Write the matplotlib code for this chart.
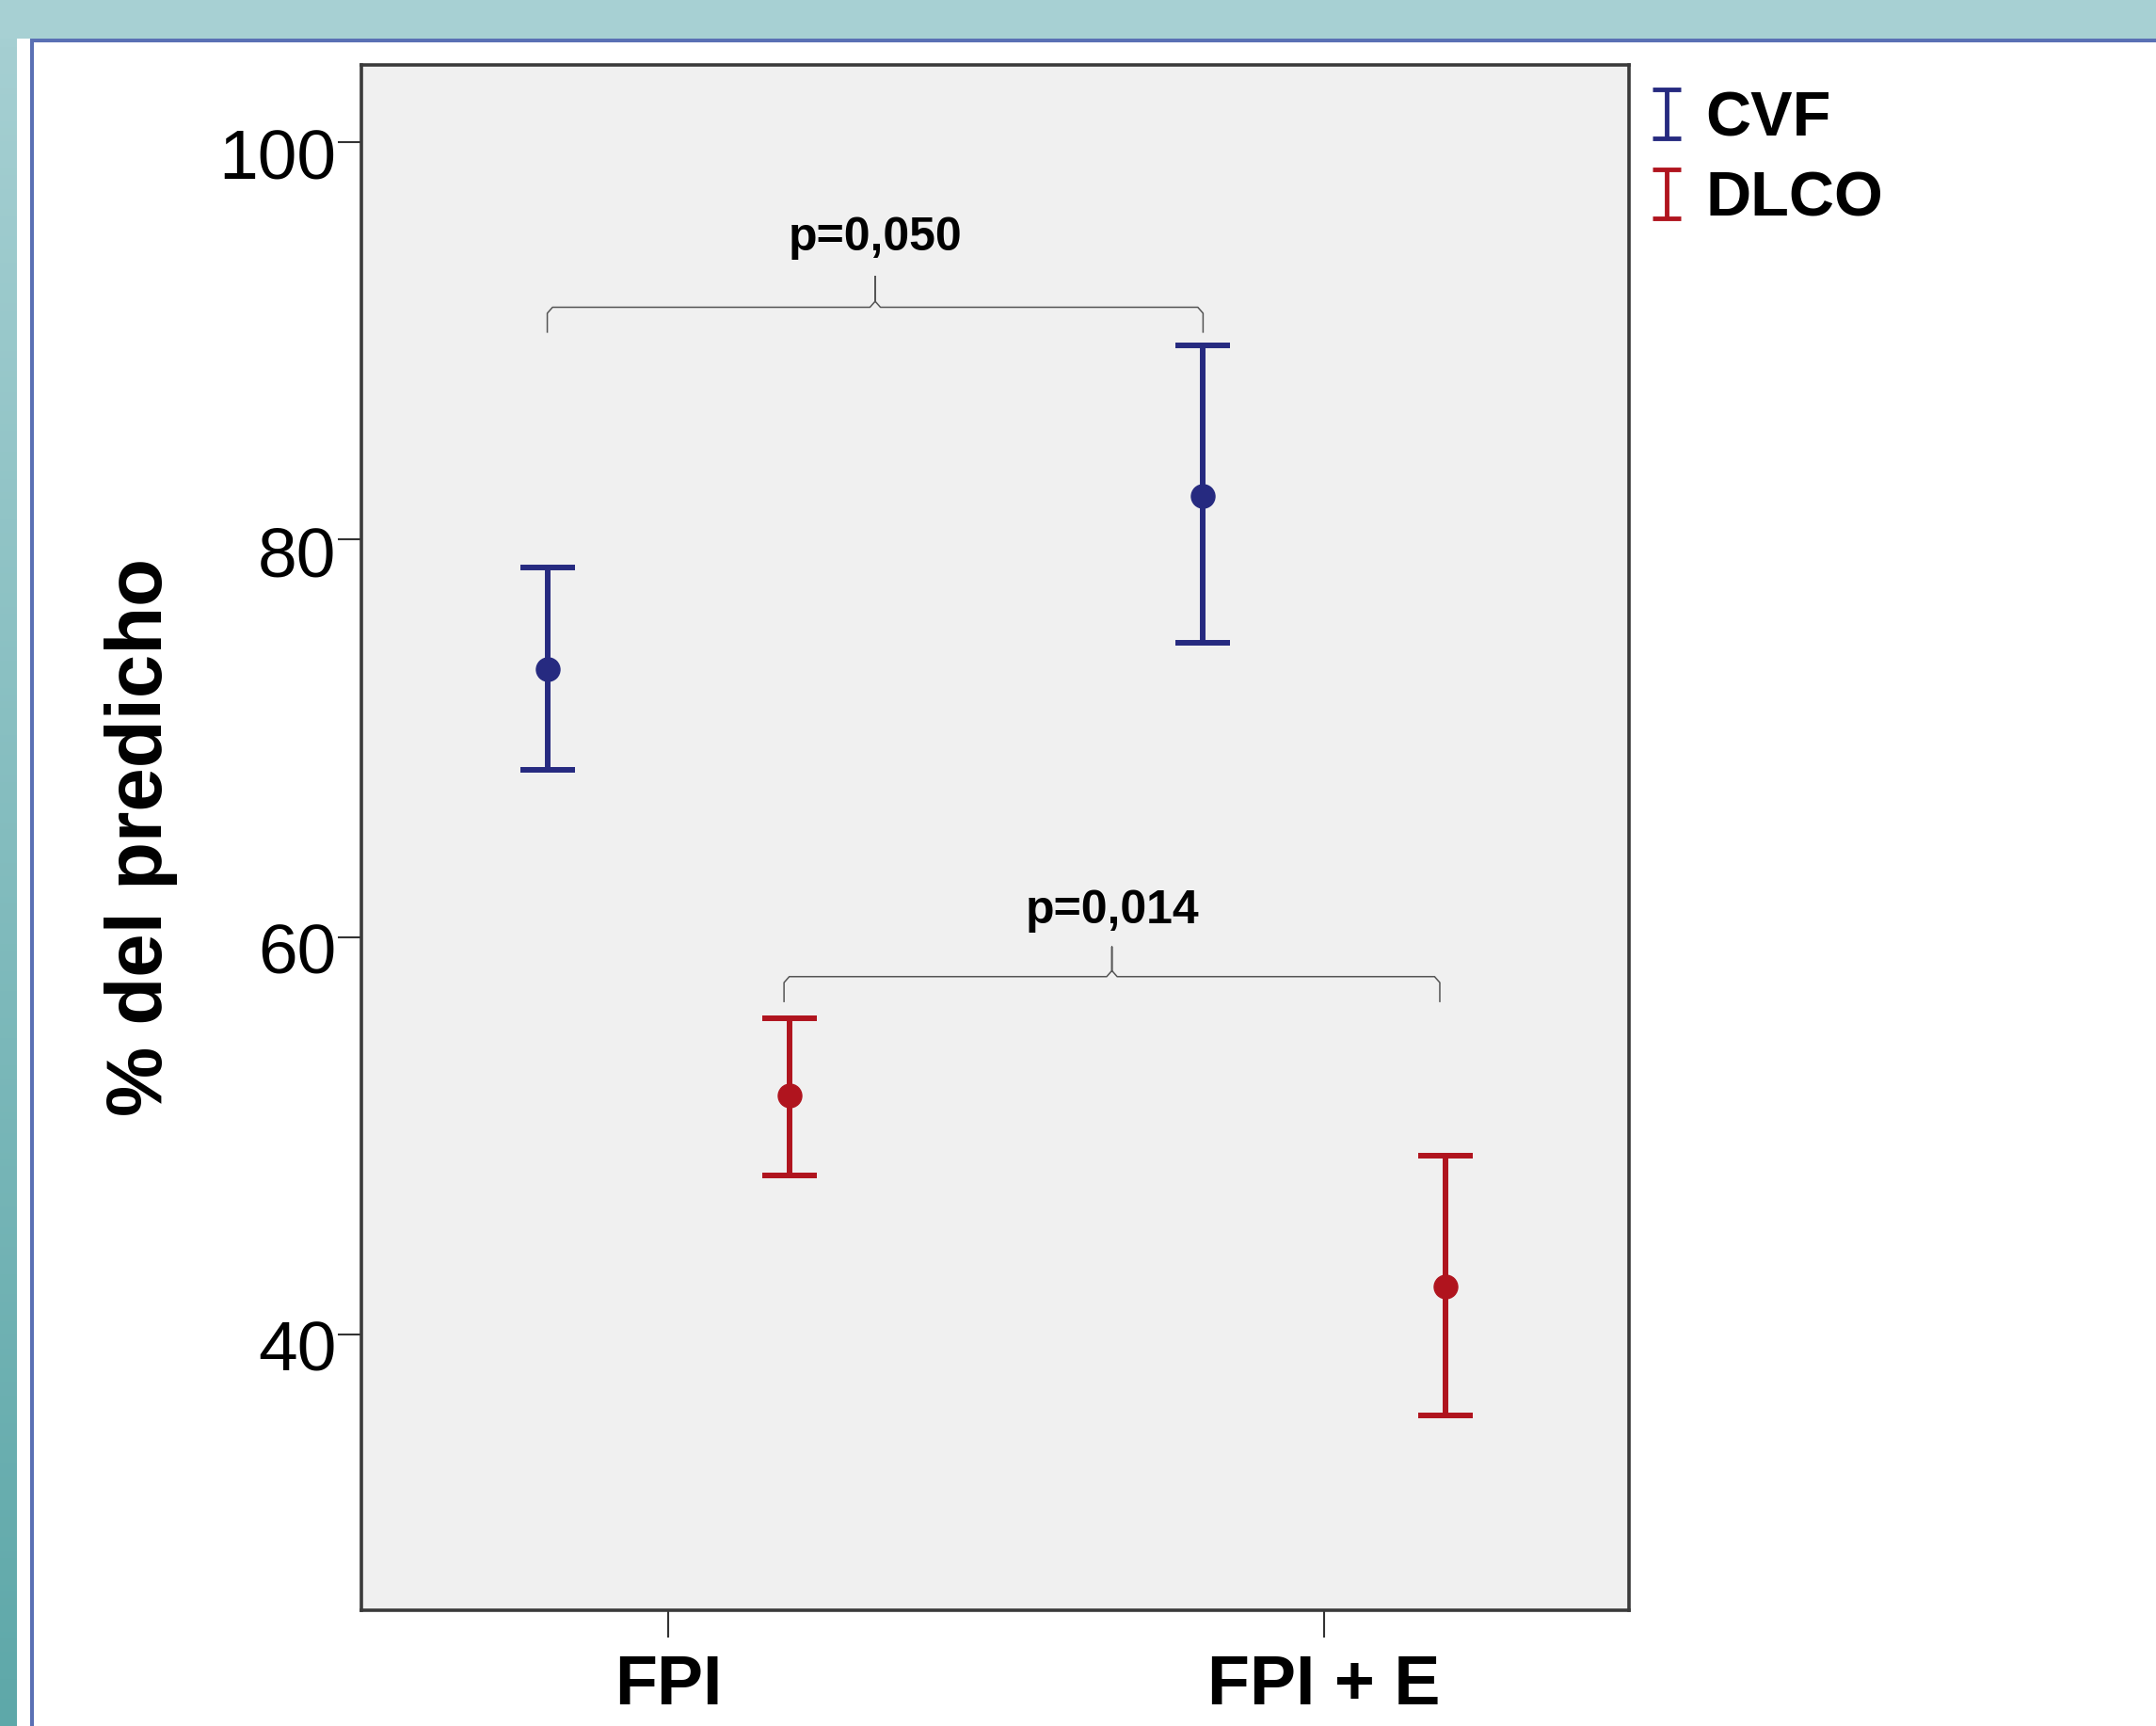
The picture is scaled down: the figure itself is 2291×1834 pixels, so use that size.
import matplotlib
matplotlib.use('Agg')
import matplotlib.pyplot as plt
import matplotlib.transforms as mtransforms
import numpy as np
from matplotlib.path import Path
from matplotlib.lines import Line2D
from matplotlib.patches import Rectangle
from matplotlib.colors import LinearSegmentedColormap

plt.rcParams['font.family'] = ['Liberation Sans', 'DejaVu Sans']

groups = ['FPI', 'FPI + E']
series = ['CVF', 'DLCO']
cvf_mean = [73.5, 82.2]
cvf_low = [68.4, 74.8]
cvf_high = [78.6, 89.8]
dlco_mean = [52.0, 42.4]
dlco_low = [48.0, 35.9]
dlco_high = [55.9, 49.0]
p_labels = ['p=0,050', 'p=0,014']
yticks = [40, 60, 80, 100]

blue = '#262a80'
red = '#b0141e'

W, H = 2291, 1834
fig = plt.figure(figsize=(W / 100, H / 100), dpi=100)

# slide frame behind the chart
bg = fig.add_axes([0, 0, 1, 1], zorder=-5)
grad = np.linspace(0, 1, 256).reshape(-1, 1)
cmap = LinearSegmentedColormap.from_list('teal', ['#a7d0d3', '#5ea8a9'])
bg.imshow(grad, cmap=cmap, extent=[0, 18, H, 0], aspect='auto')
bg.add_patch(Rectangle((0, 0), W, 41, color='#a7d0d3', lw=0))
bg.add_patch(Rectangle((32, 41), W, 4, color='#5a70b4', lw=0))
bg.add_patch(Rectangle((32, 41), 4, H, color='#5a70b4', lw=0))
bg.set_xlim(0, W)
bg.set_ylim(H, 0)
bg.axis('off')

ax = fig.add_axes([384 / W, 1 - 1711 / H, (1731 - 384) / W, (1711 - 69) / H])
ax.set_facecolor('#f0f0f0')

x = np.arange(len(groups))
off = 0.1845
data = [(cvf_mean, cvf_low, cvf_high, blue, -off),
        (dlco_mean, dlco_low, dlco_high, red, off)]
for means, lo, hi, color, dx in data:
    m = np.array(means)
    yerr = [m - np.array(lo), np.array(hi) - m]
    ax.errorbar(x + dx, m, yerr=yerr, fmt='o', color=color, ms=18,
                elinewidth=4.3, capsize=21, capthick=4.3)

# brackets with p values
def bracket(x0, x1, y, label, drop=1.25, peak=1.55, ty=3.5):
    xm = (x0 + x1) / 2
    e = 0.008
    xs = [x0, x0, x0 + e, xm - e, xm, xm, xm, xm + e, x1 - e, x1, x1]
    ys = [y - drop, y - 0.3, y, y, y + 0.3, y + peak, y + 0.3, y, y, y - 0.3, y - drop]
    ax.plot(xs, ys, color='#555555', lw=1.1)
    ax.text(xm, y + ty, label, ha='center', va='center', fontsize=36,
            fontweight='bold')

bracket(x[0] - off, x[1] - off, 91.7, p_labels[0])
bracket(x[0] + off - 0.008, x[1] + off - 0.008, 58.0, p_labels[1], ty=3.3, peak=1.5)

ax.set_xlim(-0.468, 1.465)
ax.set_ylim(26.1, 103.9)
ax.set_xticks(x)
ax.set_xticklabels(groups, fontsize=53, fontweight='bold')
ax.set_yticks(yticks)
ax.set_yticklabels([str(t) for t in yticks], fontsize=54)
ax.tick_params(axis='y', length=18, width=1.5, pad=1, color='#333333')
ax.tick_params(axis='x', length=21, width=1.5, pad=12, color='#333333')
shift = mtransforms.ScaledTranslation(0, -0.12, fig.dpi_scale_trans)
for lab in ax.get_yticklabels():
    lab.set_transform(lab.get_transform() + shift)
for s in ax.spines.values():
    s.set_color('#3a3a3a')
    s.set_linewidth(2.6)

ax.set_ylabel('% del predicho', fontsize=60, fontweight='bold')
ax.yaxis.set_label_coords(-0.145, 0.5)

ipath = Path([(-0.3, 0.5), (0.3, 0.5), (0, 0.5), (0, -0.5), (-0.3, -0.5), (0.3, -0.5)],
             [Path.MOVETO, Path.LINETO, Path.MOVETO, Path.LINETO, Path.MOVETO, Path.LINETO])
handles = [Line2D([], [], marker=ipath, ms=37, mew=3.5, color=c, ls='none')
           for c in (blue, red)]
fig.legend(handles, series, loc='upper left', bbox_to_anchor=(0.7643, 0.9474),
           frameon=False, prop=dict(family='Liberation Sans', weight='bold', size=48),
           handlelength=0.6, handletextpad=0.315, labelspacing=0.345,
           borderpad=0, borderaxespad=0)

fig.savefig('out.png', dpi=100)
